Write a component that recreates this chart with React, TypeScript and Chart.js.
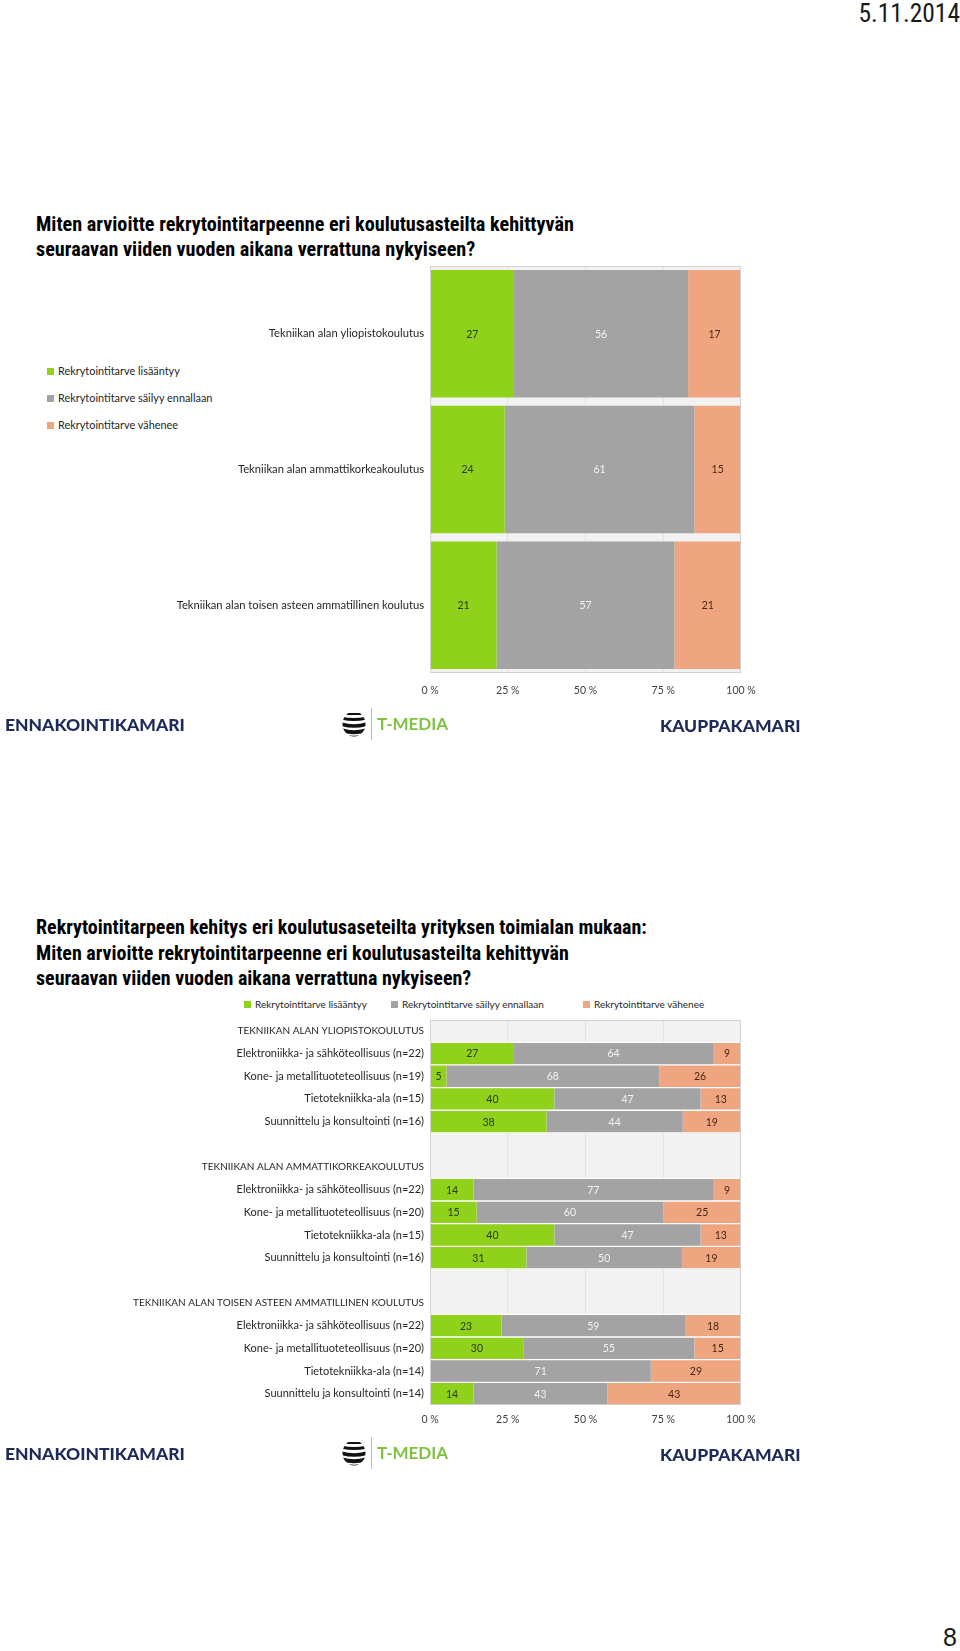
import React, { useEffect, useRef } from "react";
import { Chart, registerables } from "chart.js";

Chart.register(...registerables);

// ---------- data ----------
const SERIES_NAMES = [
  "Rekrytointitarve lisääntyy",
  "Rekrytointitarve säilyy ennallaan",
  "Rekrytointitarve vähenee",
];
const SERIES_COLORS = ["#8fd11b", "#a3a3a3", "#efa680"];
const VALUE_COLORS = ["#2c3a10", "#f2f2f2", "#4a2612"];

const X_TICK_LABELS = ["0 %", "25 %", "50 %", "75 %", "100 %"];

const TOP_CATEGORIES = [
  "Tekniikan alan yliopistokoulutus",
  "Tekniikan alan ammattikorkeakoulutus",
  "Tekniikan alan toisen asteen ammatillinen koulutus",
];
const TOP_INCREASE = [27, 24, 21.4];
const TOP_SAME = [56, 61, 57.2];
const TOP_DECREASE = [17, 15, 21.4];

const BOTTOM_CATEGORIES = [
  "TEKNIIKAN ALAN YLIOPISTOKOULUTUS",
  "Elektroniikka- ja sähköteollisuus (n=22)",
  "Kone- ja metallituoteteollisuus (n=19)",
  "Tietotekniikka-ala (n=15)",
  "Suunnittelu ja konsultointi (n=16)",
  "",
  "TEKNIIKAN ALAN AMMATTIKORKEAKOULUTUS",
  "Elektroniikka- ja sähköteollisuus (n=22)",
  "Kone- ja metallituoteteollisuus (n=20)",
  "Tietotekniikka-ala (n=15)",
  "Suunnittelu ja konsultointi (n=16)",
  "",
  "TEKNIIKAN ALAN TOISEN ASTEEN AMMATILLINEN KOULUTUS",
  "Elektroniikka- ja sähköteollisuus (n=22)",
  "Kone- ja metallituoteteollisuus (n=20)",
  "Tietotekniikka-ala (n=14)",
  "Suunnittelu ja konsultointi (n=14)",
];
const BOTTOM_INCREASE = [null, 27, 5.3, 40, 37.5, null, null, 14, 15, 40, 31, null, null, 23, 30, 0, 14];
const BOTTOM_SAME = [null, 64, 68.4, 47, 43.75, null, null, 77, 60, 47, 50, null, null, 59, 55, 71, 43];
const BOTTOM_DECREASE = [null, 9, 26.3, 13, 18.75, null, null, 9, 25, 13, 19, null, null, 18, 15, 29, 43];

const TITLE_TOP = [
  "Miten arvioitte rekrytointitarpeenne eri koulutusasteilta kehittyvän",
  "seuraavan viiden vuoden aikana verrattuna nykyiseen?",
];
const TITLE_BOTTOM = [
  "Rekrytointitarpeen kehitys eri koulutusaseteilta yrityksen toimialan mukaan:",
  "Miten arvioitte rekrytointitarpeenne eri koulutusasteilta kehittyvän",
  "seuraavan viiden vuoden aikana verrattuna nykyiseen?",
];

const BODY_FONT = "Lato, 'Open Sans', sans-serif";
const TITLE_FONT = "'Liberation Sans Narrow', 'Arial Narrow', 'Roboto Condensed', sans-serif";

// ---------- plugins ----------
const frameBgPlugin = {
  id: "frameBg",
  beforeDraw(chart: any) {
    const { ctx, chartArea: a } = chart;
    ctx.save();
    ctx.fillStyle = "#f2f2f2";
    ctx.fillRect(a.left, a.top, a.right - a.left, a.bottom - a.top);
    ctx.restore();
  },
  afterDatasetsDraw(chart: any) {
    const { ctx, chartArea: a } = chart;
    ctx.save();
    ctx.strokeStyle = "#d2d2d2";
    ctx.lineWidth = 1;
    ctx.strokeRect(
      Math.round(a.left) + 0.5,
      Math.round(a.top) + 0.5,
      Math.round(a.right - a.left) - 1,
      Math.round(a.bottom - a.top) - 1
    );
    ctx.restore();
  },
};

const valueLabelPlugin = {
  id: "valueLabels",
  afterDatasetsDraw(chart: any, _args: any, opts: any) {
    const { ctx } = chart;
    ctx.save();
    ctx.font = `${opts.size || 10}px ${BODY_FONT}`;
    ctx.textAlign = "center";
    ctx.textBaseline = "middle";
    chart.data.datasets.forEach((ds: any, di: number) => {
      const meta = chart.getDatasetMeta(di);
      meta.data.forEach((bar: any, i: number) => {
        const v = ds.data[i];
        if (v == null || v <= 0) return;
        ctx.fillStyle = VALUE_COLORS[di];
        ctx.fillText(String(Math.round(v)), (bar.x + bar.base) / 2, bar.y + 0.5);
      });
    });
    ctx.restore();
  },
};

function buildOptions(cfg: {
  axisWidth: number;
  xAxisHeight: number;
  padTop: number;
  padRight: number;
  tickPad: number;
  labelFont: (label: string) => number;
  valueSize: number;
}) {
  return {
    indexAxis: "y" as const,
    responsive: false,
    animation: false as const,
    devicePixelRatio: 1,
    layout: { padding: { top: cfg.padTop, right: cfg.padRight, left: 0, bottom: 0 } },
    plugins: {
      legend: { display: false },
      tooltip: { enabled: false },
      valueLabels: { size: cfg.valueSize },
    },
    scales: {
      x: {
        stacked: true,
        min: 0,
        max: 100,
        ticks: {
          stepSize: 25,
          padding: cfg.tickPad,
          color: "#404040",
          font: { family: BODY_FONT, size: 10.5 },
          callback: (_v: any, i: number) => X_TICK_LABELS[i],
          maxRotation: 0,
        },
        grid: {
          drawTicks: false,
          color: (c: any) =>
            c.tick && (c.tick.value === 0 || c.tick.value === 100) ? "rgba(0,0,0,0)" : "#e3e3e3",
        },
        border: { display: false },
        afterFit: (s: any) => {
          s.height = cfg.xAxisHeight;
        },
      },
      y: {
        stacked: true,
        ticks: {
          padding: 6,
          color: "#262626",
          autoSkip: false,
          font: (c: any) => {
            const lbl = c.tick ? String(c.tick.label ?? "") : "";
            return { family: BODY_FONT, size: cfg.labelFont(lbl) };
          },
        },
        grid: { display: false, drawTicks: false },
        border: { display: false },
        afterFit: (s: any) => {
          s.width = cfg.axisWidth;
        },
      },
    },
  };
}

function TopChart() {
  const ref = useRef<HTMLCanvasElement | null>(null);
  useEffect(() => {
    if (!ref.current) return;
    const values = [TOP_INCREASE, TOP_SAME, TOP_DECREASE];
    const chart = new Chart(ref.current, {
      type: "bar",
      data: {
        labels: TOP_CATEGORIES,
        datasets: values.map((d, i) => ({
          label: SERIES_NAMES[i],
          data: d,
          backgroundColor: SERIES_COLORS[i],
          borderWidth: 0,
          barPercentage: 0.94,
          categoryPercentage: 1,
        })),
      },
      options: buildOptions({
        axisWidth: 430,
        xAxisHeight: 37,
        padTop: 16,
        padRight: 39,
        tickPad: 11,
        labelFont: () => 11.2,
        valueSize: 10.5,
      }) as any,
      plugins: [frameBgPlugin, valueLabelPlugin],
    });
    return () => chart.destroy();
  }, []);
  return (
    <canvas
      ref={ref}
      width={780}
      height={460}
      style={{ position: "absolute", left: 0, top: 250, width: 780, height: 460 }}
    />
  );
}

function BottomChart() {
  const ref = useRef<HTMLCanvasElement | null>(null);
  useEffect(() => {
    if (!ref.current) return;
    const values = [BOTTOM_INCREASE, BOTTOM_SAME, BOTTOM_DECREASE];
    const chart = new Chart(ref.current, {
      type: "bar",
      data: {
        labels: BOTTOM_CATEGORIES,
        datasets: values.map((d, i) => ({
          label: SERIES_NAMES[i],
          data: d,
          backgroundColor: SERIES_COLORS[i],
          borderColor: "#ffffff",
          borderWidth: { top: 1, bottom: 1, left: 0, right: 0 },
          borderSkipped: false,
          barPercentage: 1,
          categoryPercentage: 1,
        })),
      },
      options: buildOptions({
        axisWidth: 430,
        xAxisHeight: 36,
        padTop: 0,
        padRight: 39,
        tickPad: 8,
        labelFont: (l: string) => (l && l === l.toUpperCase() ? 10 : 11),
        valueSize: 10.5,
      }) as any,
      plugins: [frameBgPlugin, valueLabelPlugin],
    });
    return () => chart.destroy();
  }, []);
  return (
    <canvas
      ref={ref}
      width={780}
      height={434}
      style={{ position: "absolute", left: 0, top: 1007, width: 780, height: 434 }}
    />
  );
}

function TextLine({ text, x, cy, size, weight, color, font }: any) {
  return (
    <div
      style={{
        position: "absolute",
        left: x,
        top: cy - size,
        height: size * 2,
        lineHeight: `${size * 2}px`,
        fontSize: size,
        fontWeight: weight || 400,
        color: color || "#000",
        fontFamily: font || BODY_FONT,
        whiteSpace: "nowrap",
      }}
    >
      {text}
    </div>
  );
}

function LegendItem({ x, cy, color, text, size }: any) {
  return (
    <>
      <div style={{ position: "absolute", left: x, top: cy - 3.5, width: 7, height: 7, background: color }} />
      <TextLine text={text} x={x + 11} cy={cy} size={size} color="#262626" />
    </>
  );
}

function TMediaIcon({ x, cy }: any) {
  return (
    <svg width={26} height={28} viewBox="0 0 26 28" style={{ position: "absolute", left: x, top: cy - 14 }}>
      <defs>
        <clipPath id={`globe${cy}`}>
          <ellipse cx={13} cy={14} rx={11.5} ry={12.5} />
        </clipPath>
      </defs>
      <g clipPath={`url(#globe${cy})`} fill="none" stroke="#111" strokeLinecap="butt">
        <path d="M0 3 Q13 5 26 3" strokeWidth={2} />
        <path d="M0 8 Q13 11 26 8" strokeWidth={3} />
        <path d="M0 14 Q13 18 26 14" strokeWidth={3.6} />
        <path d="M0 20 Q13 24.5 26 20" strokeWidth={4} />
        <path d="M0 26 Q13 30 26 26" strokeWidth={4.4} />
      </g>
    </svg>
  );
}

function Logos({ cy }: { cy: number }) {
  return (
    <>
      <TextLine text="ENNAKOINTIKAMARI" x={5} cy={cy} size={17.5} weight={900} color="#1e2a5a" font="Lato, sans-serif" />
      <TMediaIcon x={341} cy={cy} />
      <div style={{ position: "absolute", left: 371, top: cy - 16, width: 1, height: 32, background: "#bdbdbd" }} />
      <TextLine text="T-MEDIA" x={377} cy={cy} size={17} weight={700} color="#7fc241" font="Lato, sans-serif" />
      <TextLine text="KAUPPAKAMARI" x={660} cy={cy + 1.5} size={17.5} weight={900} color="#1e2a5a" font="Lato, sans-serif" />
    </>
  );
}

export default function App() {
  return (
    <div
      style={{
        position: "absolute",
        left: 0,
        top: 0,
        width: 960,
        height: 1651,
        background: "#ffffff",
        overflow: "hidden",
      }}
    >
      <div
        style={{
          position: "absolute",
          right: 0,
          top: 0,
          fontSize: 25.5,
          lineHeight: "27px",
          fontFamily: TITLE_FONT,
          color: "#1a1a1a",
        }}
      >
        5.11.2014
      </div>

      {TITLE_TOP.map((t, i) => (
        <TextLine key={"tt" + i} text={t} x={36} cy={224 + i * 25} size={20.2} weight={700} font={TITLE_FONT} />
      ))}

      {SERIES_NAMES.map((n, i) => (
        <LegendItem key={"tl" + i} x={47} cy={371 + i * 27} color={SERIES_COLORS[i]} text={n} size={10.9} />
      ))}

      <TopChart />
      <Logos cy={724} />

      {TITLE_BOTTOM.map((t, i) => (
        <TextLine key={"tb" + i} text={t} x={36} cy={927 + i * 25.5} size={20} weight={700} font={TITLE_FONT} />
      ))}

      <LegendItem x={244} cy={1004} color={SERIES_COLORS[0]} text={SERIES_NAMES[0]} size={10} />
      <LegendItem x={391} cy={1004} color={SERIES_COLORS[1]} text={SERIES_NAMES[1]} size={10} />
      <LegendItem x={583} cy={1004} color={SERIES_COLORS[2]} text={SERIES_NAMES[2]} size={10} />

      <BottomChart />
      <Logos cy={1453} />

      <div
        style={{
          position: "absolute",
          right: 3,
          top: 1623,
          fontSize: 25,
          lineHeight: "28px",
          fontFamily: "'Liberation Sans', Arial, sans-serif",
          color: "#1a1a1a",
        }}
      >
        8
      </div>
    </div>
  );
}
